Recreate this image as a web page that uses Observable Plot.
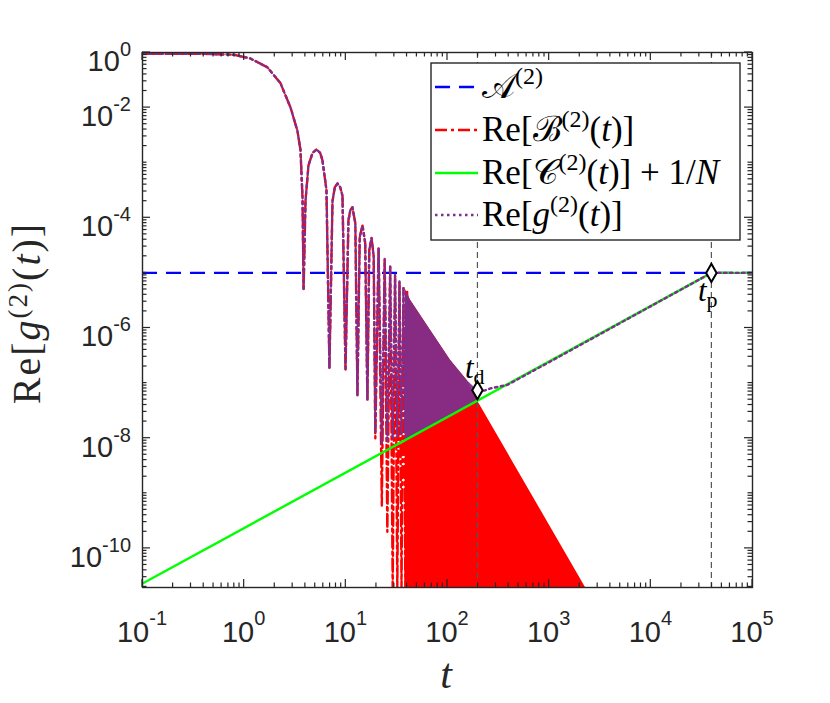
<!DOCTYPE html>
<html><head><meta charset="utf-8">
<script src="https://cdn.jsdelivr.net/npm/d3@7"></script>
<script src="https://cdn.jsdelivr.net/npm/@observablehq/plot@0.6"></script>
<style>body{margin:0;background:#fff} #chart{width:830px;height:703px}</style>
</head><body><div id="chart"></div>
<script>
// ---------- data ----------
const xDomain = [0.1, 1e5];
const yDomain = [1.95e-11, 1e-1];
const xTicks = [1e-1, 1e0, 1e1, 1e2, 1e3, 1e4, 1e5];
const xTickExp = ["-1", "0", "1", "2", "3", "4", "5"];
const yTicks = [1e-1, 1e-2, 1e-4, 1e-6, 1e-8, 1e-10];
const yTickExp = ["0", "-2", "-4", "-6", "-8", "-10"];

const A2 = 1e-5;                  // A^(2) level
const tD = 197, tDval = 7.4e-8;   // t_d marker
const tP = 3.94e4, tPval = 1e-5;  // t_p marker

// Re[C]+1/N (green)
const cT = [0.1, 3.94e4, 1e5];
const cV = [2.3e-11, 1e-5, 1e-5];

// early part shared by Re[B] and Re[g]
const earlyT = [0.1, 0.37, 0.79, 1.15, 1.69, 2.27, 2.86, 3.34, 3.58, 3.75, 3.84, 4.01, 4.29, 4.7, 5.14, 5.6, 5.89, 6.45, 6.9, 7.39, 7.8, 8.28, 8.8, 9.27, 9.93, 10.6, 11.1, 11.6, 12.4, 13.0, 13.7, 14.6, 15.5, 16.3, 17.0, 17.9, 18.8];
const earlyV = [0.095, 0.095, 0.091, 0.078, 0.054, 0.028, 1.0e-2, 3.8e-3, 1.7e-3, 2.3e-4, 4.8e-6, 2.0e-4, 8.9e-4, 1.5e-3, 1.74e-3, 1.5e-3, 1.1e-3, 3.2e-4, 1.9e-7, 2.0e-4, 3.6e-4, 4.2e-4, 3.6e-4, 2.5e-4, 1.7e-7, 8.9e-5, 1.4e-4, 1.55e-4, 8e-5, 6e-8, 4.5e-5, 7.2e-5, 3.5e-5, 4.9e-8, 2.6e-5, 4.3e-5, 2.0e-5];
// later lobes of Re[B] (red) – dips go much deeper
const bLateT = [19.5, 21.0, 22.6, 24.1, 25.6, 27.3, 28.9, 30.5, 32.1, 33.7, 35.3, 36.9, 38.5, 40.1];
const bLateV = [1.0e-8, 2.8e-5, 6e-10, 1.8e-5, 2e-10, 1.3e-5, 1.9e-11, 9.3e-6, 1.9e-11, 7.0e-6, 1.9e-11, 5.3e-6, 1.9e-11, 4.5e-6];
// later lobes of Re[g] (purple) – dips stop above the green line
const gLateT = [19.5, 21.0, 22.6, 24.1, 25.6, 27.3, 28.9, 30.5, 32.1, 33.7, 35.3, 36.9, 38.5, 40.1];
const gLateV = [1.3e-8, 2.8e-5, 8e-9, 1.8e-5, 8.5e-9, 1.3e-5, 9.5e-9, 9.3e-6, 1.05e-8, 7.0e-6, 1.15e-8, 5.3e-6, 1.25e-8, 4.5e-6];
// Re[g] after t_d, then on top of the green line
const gTailT = [197, 230, 265, 389, 1000, 3.94e4, 1e5];
const gTailV = [7.4e-8, 7.3e-8, 8.0e-8, 9.3e-8, 2.4e-7, 1e-5, 1e-5];
// dense oscillation bands
const bandT   = [38.5, 43.3, 68, 107, 157, 197];
const gBandLo = [9.3e-9, 1.05e-8, 1.65e-8, 2.6e-8, 3.8e-8, 4.8e-8];
const gBandHi = [5.0e-6, 3.2e-6, 9.1e-7, 2.6e-7, 1.1e-7, 7.4e-8];
const bBandT  = [38.5, 43.3, 68, 107, 157, 197, 2275];
const bBandHi = [5.0e-6, 3.2e-6, 9.1e-7, 2.6e-7, 1.1e-7, 4.8e-8, 1.95e-11];

// ---------- build tables ----------
const zip = (T, V) => T.map((t, i) => ({t, v: V[i]}));
const bLine = zip(earlyT.concat(bLateT), earlyV.concat(bLateV));
const gLine = zip(earlyT.concat(gLateT), earlyV.concat(gLateV));
const gTail = zip(gTailT, gTailV);
const cLine = zip(cT, cV);
const gBand = bandT.map((t, i) => ({t, lo: gBandLo[i], hi: gBandHi[i]}));
const bBand = bBandT.map((t, i) => ({t, lo: yDomain[0], hi: bBandHi[i]}));

const RED = "#ff0000", PUR = "#7e2f8e", GRN = "#00ff00", BLU = "#0000ff";
const LW = 2.4;
const DOT = "2.5,3.5";

const plot = Plot.plot({
  width: 830, height: 703,
  marginLeft: 142, marginRight: 78, marginTop: 52, marginBottom: 116,
  x: {type: "log", domain: xDomain, axis: null},
  y: {type: "log", domain: yDomain, axis: null},
  style: {background: "#fff"},
  marks: [
    Plot.ruleY([A2], {stroke: BLU, strokeWidth: LW, strokeDasharray: "15,9"}),
    Plot.areaY(bBand, {x: "t", y1: "lo", y2: "hi", fill: RED, clip: true}),
    Plot.line(bLine, {x: "t", y: "v", stroke: RED, strokeWidth: LW, strokeDasharray: "12,4,3,4", clip: true}),
    Plot.areaY(gBand, {x: "t", y1: "lo", y2: "hi", fill: PUR, fillOpacity: 0.92, clip: true}),
    Plot.line(gLine, {x: "t", y: "v", stroke: PUR, strokeWidth: LW, strokeDasharray: DOT, clip: true}),
    Plot.line(cLine, {x: "t", y: "v", stroke: GRN, strokeWidth: LW, clip: true}),
    Plot.line(gTail, {x: "t", y: "v", stroke: PUR, strokeWidth: LW, strokeDasharray: DOT, clip: true}),
    Plot.ruleX([tD, tP], {stroke: "#555", strokeWidth: 1.2, strokeDasharray: "6,4"}),
    Plot.dot([{t: tD, v: tDval}, {t: tP, v: tPval}], {x: "t", y: "v", symbol: "diamond", r: 5.5, stroke: "#000", strokeWidth: 2, fill: "#fff"}),
    Plot.frame({stroke: "#262626", strokeWidth: 1.4})
  ]
});
document.getElementById("chart").appendChild(plot);

// ---------- axes furniture (ticks, labels, legend) ----------
const svg = d3.select(plot);
const sx = plot.scale("x"), sy = plot.scale("y");
const X = v => sx.apply(v), Y = v => sy.apply(v);
const L = 142, R = 752, T = 52, B = 587;
const ink = "#262626";
const g = svg.append("g").attr("stroke", ink).attr("stroke-width", 1.2);
for (let e = -1; e <= 5; e++) {
  for (let k = 1; k <= 9; k++) {
    const v = k * 10 ** e;
    if (v > 1e5 * 1.0001) continue;
    const px = X(v), len = k === 1 ? 8 : 4.5;
    g.append("line").attr("x1", px).attr("x2", px).attr("y1", B).attr("y2", B - len);
    g.append("line").attr("x1", px).attr("x2", px).attr("y1", T).attr("y2", T + len);
  }
}
const yMajor = new Set(yTicks.map(v => Math.round(Math.log10(v))));
for (let e = -11; e <= -1; e++) {
  for (let k = 1; k <= 9; k++) {
    const v = k * 10 ** e;
    if (v < yDomain[0] || v > yDomain[1] * 1.0001) continue;
    const py = Y(v), len = (k === 1 && yMajor.has(e)) ? 8 : 4.5;
    g.append("line").attr("y1", py).attr("y2", py).attr("x1", L).attr("x2", L + len);
    g.append("line").attr("y1", py).attr("y2", py).attr("x1", R).attr("x2", R - len);
  }
}
const tickFont = "'Liberation Sans', Arial, sans-serif";
xTicks.forEach((v, i) => {
  const t = svg.append("text").attr("x", X(v)).attr("y", 642).attr("text-anchor", "middle")
    .attr("font-family", tickFont).attr("font-size", 29).attr("fill", ink);
  t.append("tspan").text("10");
  t.append("tspan").attr("dy", -17).attr("font-size", 20).text(xTickExp[i]);
});
yTicks.forEach((v, i) => {
  const t = svg.append("text").attr("x", 131).attr("y", Y(v) + 19).attr("text-anchor", "end")
    .attr("font-family", tickFont).attr("font-size", 29).attr("fill", ink);
  t.append("tspan").text("10");
  t.append("tspan").attr("dy", -15).attr("font-size", 20).text(yTickExp[i]);
});
const serif = "'Liberation Serif', 'Times New Roman', serif";
const yl = svg.append("text").attr("transform", "translate(40,313) rotate(-90)").attr("text-anchor", "middle")
  .attr("font-family", serif).attr("font-size", 40).attr("letter-spacing", 2).attr("fill", ink);
yl.append("tspan").text("Re[");
yl.append("tspan").attr("font-style", "italic").text("g");
yl.append("tspan").attr("dy", -13).attr("font-size", 27).text("(2)");
yl.append("tspan").attr("dy", 13).text("(");
yl.append("tspan").attr("font-style", "italic").text("t");
yl.append("tspan").text(")]");
svg.append("text").attr("x", 446).attr("y", 688).attr("text-anchor", "middle").attr("font-family", serif)
  .attr("font-style", "italic").attr("font-size", 42).attr("fill", ink).text("t");
function sub(x, y, main, s) {
  const t = svg.append("text").attr("x", x).attr("y", y).attr("text-anchor", "start").attr("font-family", serif).attr("font-size", 31).attr("fill", "#000");
  t.append("tspan").attr("font-style", "italic").text(main);
  t.append("tspan").attr("dy", 6).attr("font-size", 22).text(s);
}
sub(X(tD) - 12, Y(tDval) - 12, "t", "d");
sub(X(tP) - 13, Y(tPval) + 29, "t", "p");
const lg = svg.append("g");
lg.append("rect").attr("x", 431).attr("y", 63).attr("width", 309).attr("height", 177)
  .attr("fill", "#fff").attr("stroke", ink).attr("stroke-width", 1.4);
const rows = [
  {y: 87, c: BLU, d: "15,9"}, {y: 130, c: RED, d: "12,4,3,4"}, {y: 173, c: GRN, d: null}, {y: 215, c: PUR, d: DOT}
];
rows.forEach(r => {
  const ln = lg.append("line").attr("x1", 435).attr("x2", 478).attr("y1", r.y).attr("y2", r.y)
    .attr("stroke", r.c).attr("stroke-width", LW);
  if (r.d) ln.attr("stroke-dasharray", r.d);
});
function legText(y, parts) {
  const t = lg.append("text").attr("x", 482).attr("y", y + 11).attr("text-anchor", "start")
    .attr("font-family", serif).attr("font-size", 35).attr("fill", "#000");
  parts.forEach(p => {
    const s = t.append("tspan").text(p.s);
    if (p.i) s.attr("font-style", "italic");
    if (p.up) s.attr("dy", -p.up);
    if (p.fs) s.attr("font-size", p.fs);
  });
}
legText(87, [{s: "𝒜"}, {s: "(2)", up: 14, fs: 24}]);
legText(130, [{s: "Re["}, {s: "ℬ"}, {s: "(2)", up: 14, fs: 24}, {s: "(", up: -14}, {s: "t", i: 1}, {s: ")]"}]);
legText(173, [{s: "Re["}, {s: "𝒞"}, {s: "(2)", up: 14, fs: 24}, {s: "(", up: -14}, {s: "t", i: 1}, {s: ")] + 1/"}, {s: "N", i: 1}]);
legText(215, [{s: "Re["}, {s: "g", i: 1}, {s: "(2)", up: 14, fs: 24}, {s: "(", up: -14}, {s: "t", i: 1}, {s: ")]"}]);
</script></body></html>
